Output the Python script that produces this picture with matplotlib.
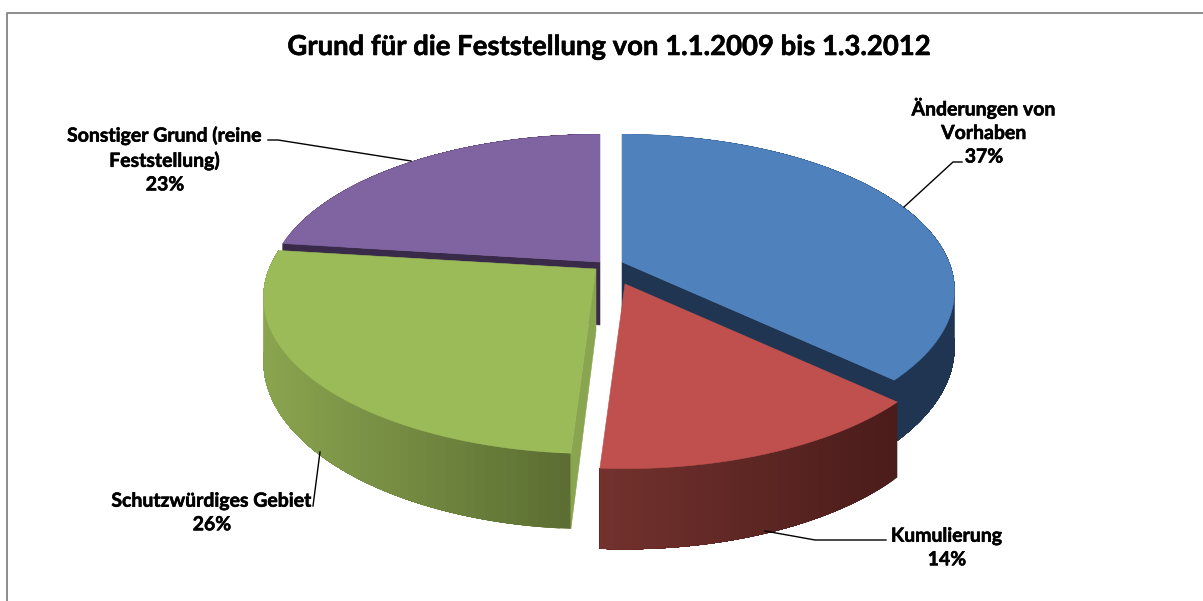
import numpy as np
import matplotlib
matplotlib.use("Agg")
import matplotlib.pyplot as plt
import matplotlib.patheffects as pe
from matplotlib.patches import Polygon

# data
labels = ["Änderungen von\nVorhaben", "Kumulierung", "Schutzwürdiges Gebiet", "Sonstiger Grund (reine\nFeststellung)"]
values = [37, 14, 26, 23]
title = "Grund für die Feststellung von 1.1.2009 bis 1.3.2012"

# look of the slices
top_colors = ["#4f81bd", "#c0504d", "#9bbb59", "#8064a2"]
side_left = ["#1f3552", "#73322e", "#8aa54f", "#3a2a4a"]
side_right = ["#1f3552", "#4a1c1a", "#5c6e32", "#3a2a4a"]
cut_colors = ["#1f3552", None, "#8aa54f", "#3a2a4a"]
cut_end = [-1, 0, 0, 0]
apex = [(622, 262), (625, 284), (596, 269), (600, 262)]
depth = [55, 66, 62, 63]
draw_order = [3, 0, 1, 2]
label_xy = [(984, 132), (947, 548), (212, 513), (165, 160)]
leaders = [[(904, 207), (953, 162), (962, 162)],
           [(765, 531), (815, 540), (886, 540)],
           [(320, 452), (313, 506)],
           [(268, 140), (278, 140), (411, 161)]]

RX, RY, K = 327, 151, 0.182


def project(angle, c):
    # angle in degrees, clockwise from 12 o'clock
    a = np.radians(angle)
    u, v = np.sin(a), np.cos(a)
    s = 1 / (1 + K * v)
    return c[0] + RX * u * s, c[1] - RY * v * s, s


def hexrgb(h):
    return np.array(matplotlib.colors.to_rgb(h))


fig = plt.figure(figsize=(12.03, 6.01), dpi=100)
ax = fig.add_axes([0, 0, 1, 1])
ax.set_xlim(0, 1203)
ax.set_ylim(601, 0)
ax.axis("off")

# chart frame, only the left and top sides are in the picture
ax.plot([7, 7, 1203], [601, 13, 13], color="#8c8c8c", linewidth=1.4)

edges = np.cumsum([0] + values) / sum(values) * 360

for n, i in enumerate(draw_order):
    c = apex[i]
    d = depth[i]
    angles = np.linspace(edges[i], edges[i + 1], 120)
    xs, ys, ss = project(angles, c)
    ybot = ys + d * ss

    # outer wall, painted over itself step by step so the shading has no seams
    left, right = hexrgb(side_left[i]), hexrgb(side_right[i])
    for j in range(0, len(angles) - 1, 2):
        t = (xs[j] - xs.min()) / (xs.max() - xs.min())
        col = left + (right - left) * t
        pts = list(zip(xs[j:], ys[j:])) + list(zip(xs[j:], ybot[j:]))[::-1]
        ax.add_patch(Polygon(pts, facecolor=col, edgecolor="none", zorder=2 + n))

    # cut face
    if cut_colors[i] is not None:
        k = cut_end[i]
        ax.add_patch(Polygon([c, (xs[k], ys[k]), (xs[k], ybot[k]), (c[0], c[1] + d)],
                             facecolor=cut_colors[i], edgecolor=cut_colors[i], linewidth=0.4, zorder=2 + n))

    # top face
    ax.add_patch(Polygon([c] + list(zip(xs, ys)), facecolor=top_colors[i], edgecolor=top_colors[i],
                         linewidth=0.4, zorder=2 + n))

heavier = [pe.withStroke(linewidth=0.4, foreground="black")]

ax.text(608, 47, title, ha="center", va="center", fontsize=19.8, fontweight="bold", family="Lato", color="black",
        path_effects=heavier)

for i in range(len(values)):
    ax.text(label_xy[i][0], label_xy[i][1], f"{labels[i]}\n{values[i]}%", ha="center", va="center",
            fontsize=14, fontweight="bold", family="Lato", color="black", linespacing=1.47, zorder=10,
            path_effects=heavier)
    ax.plot(*zip(*leaders[i]), color="black", linewidth=1, zorder=10)

fig.savefig("out.png", dpi=100)
